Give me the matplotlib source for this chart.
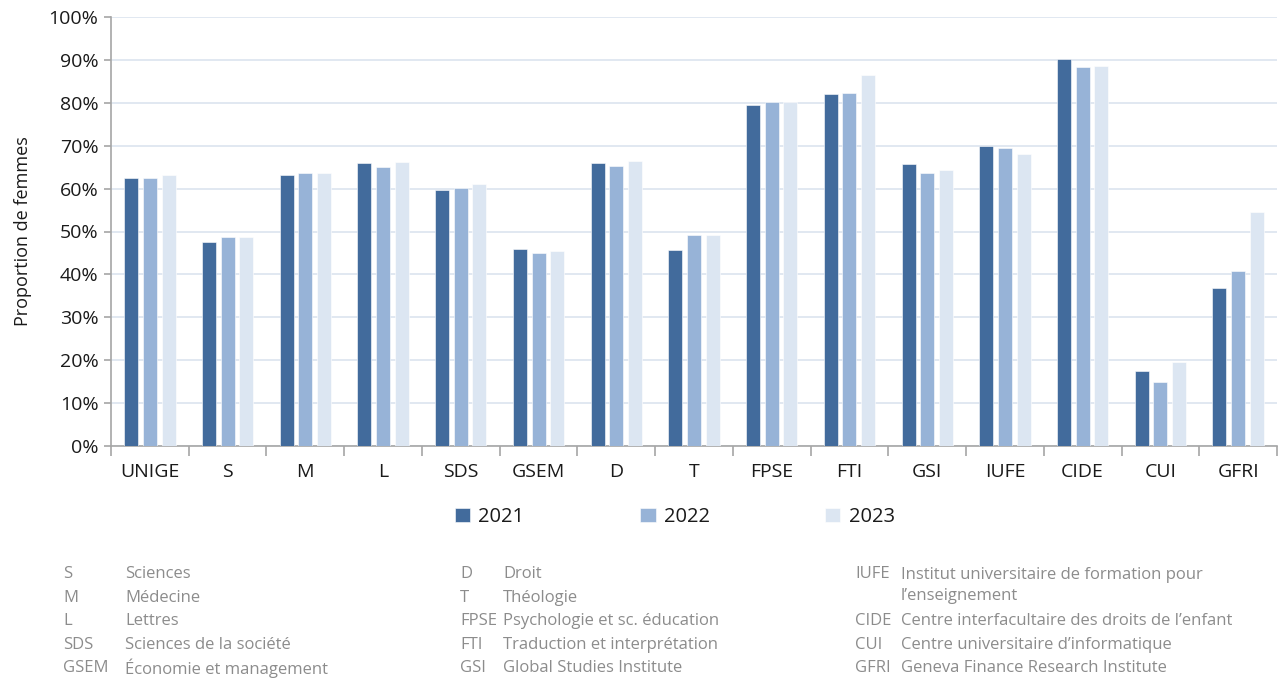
import numpy as np
import matplotlib.pyplot as plt
from matplotlib.ticker import PercentFormatter

categories = ['UNIGE', 'S', 'M', 'L', 'SDS', 'GSEM', 'D', 'T', 'FPSE', 'FTI',
              'GSI', 'IUFE', 'CIDE', 'CUI', 'GFRI']
years = ['2021', '2022', '2023']
v2021 = [62.5, 47.5, 63.2, 66.0, 59.7, 46.0, 65.9, 45.8, 79.5, 82.0,
         65.7, 69.9, 90.2, 17.5, 36.8]
v2022 = [62.5, 48.8, 63.6, 65.1, 60.1, 45.0, 65.3, 49.3, 80.1, 82.3,
         63.7, 69.5, 88.4, 14.9, 40.8]
v2023 = [63.1, 48.7, 63.6, 66.3, 61.0, 45.4, 66.5, 49.3, 80.1, 86.4,
         64.3, 68.1, 88.6, 19.6, 54.5]
colors = ['#426b9c', '#97b3d7', '#dce6f2']

notes_left = [('S', 'Sciences'), ('M', 'Médecine'), ('L', 'Lettres'),
              ('SDS', 'Sciences de la société'), ('GSEM', 'Économie et management')]
notes_mid = [('D', 'Droit'), ('T', 'Théologie'), ('FPSE', 'Psychologie et sc. éducation'),
             ('FTI', 'Traduction et interprétation'), ('GSI', 'Global Studies Institute')]
notes_right = [('IUFE', 'Institut universitaire de formation pour\nl\u2019enseignement'),
               ('CIDE', 'Centre interfacultaire des droits de l\u2019enfant'),
               ('CUI', 'Centre universitaire d\u2019informatique'),
               ('GFRI', 'Geneva Finance Research Institute')]

plt.rcParams['font.family'] = ['Open Sans', 'DejaVu Sans']

W, H = 1278, 681
fig = plt.figure(figsize=(W / 100, H / 100), dpi=100)
ax = fig.add_axes([111 / W, 1 - 446 / H, (1277 - 111) / W, (446 - 17) / H])

x = np.arange(len(categories))
offsets = [-0.24, 0, 0.24]
for vals, off, col, yr in zip([v2021, v2022, v2023], offsets, colors, years):
    ax.bar(x + off, vals, width=0.18, color=col, label=yr, zorder=3,
           edgecolor='white', linewidth=0.4)

ax.set_xlim(-0.5, len(categories) - 0.5)
ax.set_ylim(0, 100)
ax.set_yticks(np.arange(0, 101, 10))
ax.yaxis.set_major_formatter(PercentFormatter(decimals=0))
ax.grid(axis='y', color='#dce4ef', linewidth=1.2, zorder=0)
ax.set_axisbelow(True)

ax.set_xticks(np.arange(-0.5, len(categories), 1))
ax.set_xticklabels([])
ax.set_xticks(x, minor=True)
ax.set_xticklabels(categories, minor=True)
ax.tick_params(axis='x', which='major', length=7, color='#a6a6a6', width=1.2)
ax.tick_params(axis='x', which='minor', length=0, pad=12, labelsize=14, labelcolor='#1a1a1a')
ax.tick_params(axis='y', length=5, color='#a6a6a6', width=1.2, labelsize=14,
               labelcolor='#1a1a1a', pad=4)

for s in ['top', 'right']:
    ax.spines[s].set_visible(False)
for s in ['left', 'bottom']:
    ax.spines[s].set_color('#a6a6a6')
    ax.spines[s].set_linewidth(1.2)

ax.set_ylabel('Proportion de femmes', fontsize=13, color='#1a1a1a', labelpad=12)

leg = fig.legend(loc='center', bbox_to_anchor=(675 / W, 1 - 517 / H), ncol=3,
                 frameon=False, fontsize=14.5, handlelength=0.75, handleheight=0.75,
                 handletextpad=0.4, columnspacing=5.75)
for t in leg.get_texts():
    t.set_color('#1a1a1a')

note_kw = dict(fontsize=12, color='#8c8c8c', va='center', ha='left')
rows = [574, 598, 621, 645, 668]
for (ab, txt), yy in zip(notes_left, rows):
    fig.text(63 / W, 1 - yy / H, ab, **note_kw)
    fig.text(125 / W, 1 - yy / H, txt, **note_kw)
for (ab, txt), yy in zip(notes_mid, rows):
    fig.text(460 / W, 1 - yy / H, ab, **note_kw)
    fig.text(503 / W, 1 - yy / H, txt, **note_kw)
rows_r = [574, 621, 645, 668]
for (ab, txt), yy in zip(notes_right, rows_r):
    fig.text(855 / W, 1 - yy / H, ab, **note_kw)
    fig.text(901 / W, 1 - (yy + 11.5 if '\n' in txt else yy) / H, txt,
             linespacing=1.4, **note_kw)

fig.savefig('out.png', dpi=100)
